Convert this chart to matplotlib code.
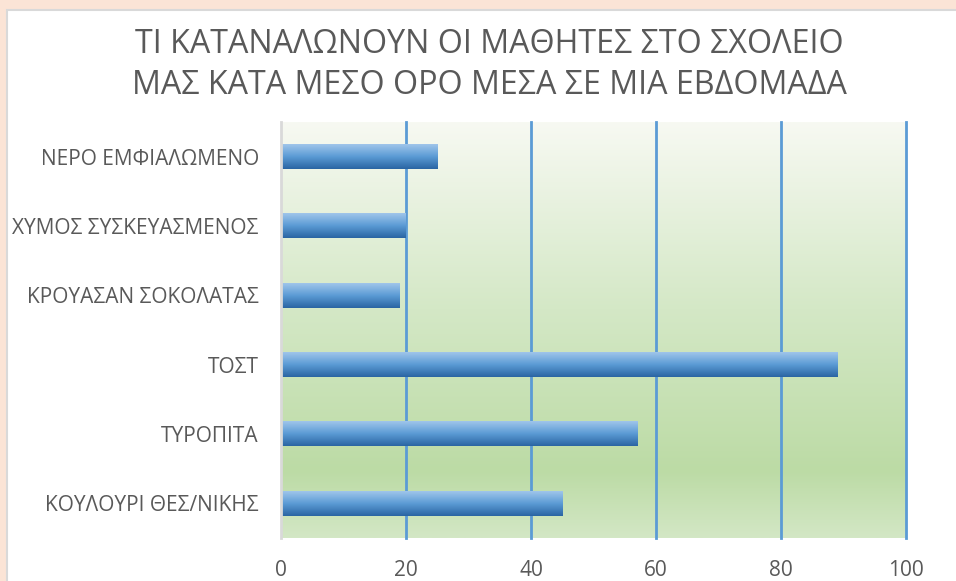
import numpy as np
import matplotlib.pyplot as plt
from matplotlib.colors import LinearSegmentedColormap
from matplotlib.patches import Rectangle

categories = ["ΚΟΥΛΟΥΡΙ ΘΕΣ/ΝΙΚΗΣ", "ΤΥΡΟΠΙΤΑ", "ΤΟΣΤ",
              "ΚΡΟΥΑΣΑΝ ΣΟΚΟΛΑΤΑΣ", "ΧΥΜΟΣ ΣΥΣΚΕΥΑΣΜΕΝΟΣ", "ΝΕΡΟ ΕΜΦΙΑΛΩΜΕΝΟ"]
values = [45, 57, 89, 19, 20, 25]
xticks = [0, 20, 40, 60, 80, 100]
title = "ΤΙ ΚΑΤΑΝΑΛΩΝΟΥΝ ΟΙ ΜΑΘΗΤΕΣ ΣΤΟ ΣΧΟΛΕΙΟ\nΜΑΣ ΚΑΤΑ ΜΕΣΟ ΟΡΟ ΜΕΣΑ ΣΕ ΜΙΑ ΕΒΔΟΜΑΔΑ"

plt.rcParams['font.family'] = ['Open Sans', 'DejaVu Sans']

fig = plt.figure(figsize=(9.56, 5.81), dpi=100)
fig.patch.set_facecolor('#fbe4d6')
# white chart card with light border
card = Rectangle((7/956, -0.1), 1.1, 1 - 10/581 + 0.1, transform=fig.transFigure,
                 facecolor='white', edgecolor='#d9d9d9', linewidth=1.5, zorder=-5)
fig.patches.append(card)

ax = fig.add_axes([281/956, 43/581, 625/956, 416/581])
ax.set_zorder(1)
ax.patch.set_alpha(0)

# plot area background gradient
bg = LinearSegmentedColormap.from_list('bg', [(0, '#d3e7c5'), (0.16, '#bcdba5'),
                                              (0.55, '#d4e8c6'), (1, '#f7f9f2')])
ax.imshow(np.linspace(0, 1, 256).reshape(-1, 1), cmap=bg, aspect='auto',
          extent=[0, 100, -0.5, len(categories) - 0.5], origin='lower', zorder=0)

for x in xticks[1:]:
    ax.axvline(x, color='#5b9bd5', linewidth=2, zorder=1, clip_on=False)

bar_cmap = LinearSegmentedColormap.from_list('bar', ['#2a65a3', '#5b9bd5', '#9fc5ea'])
bars = ax.barh(np.arange(len(categories)), values, height=0.36, color='none', zorder=2)
for b in bars:
    x0, y0 = b.get_x(), b.get_y()
    w, h = b.get_width(), b.get_height()
    ax.imshow(np.linspace(0, 1, 64).reshape(-1, 1), cmap=bar_cmap, aspect='auto',
              extent=[x0, x0 + w, y0, y0 + h], origin='lower', zorder=3)
ax.set_xlim(0, 100)
ax.set_ylim(-0.5, len(categories) - 0.5)

for s in ['top', 'right', 'bottom']:
    ax.spines[s].set_visible(False)
ax.spines['left'].set_color('#d9d9d9')
ax.spines['left'].set_linewidth(2)
ax.spines['left'].set_zorder(4)

ax.set_xticks(xticks)
ax.set_yticks(np.arange(len(categories)))
ax.set_yticklabels(categories)
ax.tick_params(axis='both', length=0, labelsize=15, colors='#595959')
ax.tick_params(axis='y', pad=16)
ax.tick_params(axis='x', pad=16)

fig.text(489/956, 1 - 65/581, title, ha='center', va='center', fontsize=23.2,
         color='#595959', linespacing=1.3)

fig.savefig('out.png', dpi=100, facecolor=fig.get_facecolor())
